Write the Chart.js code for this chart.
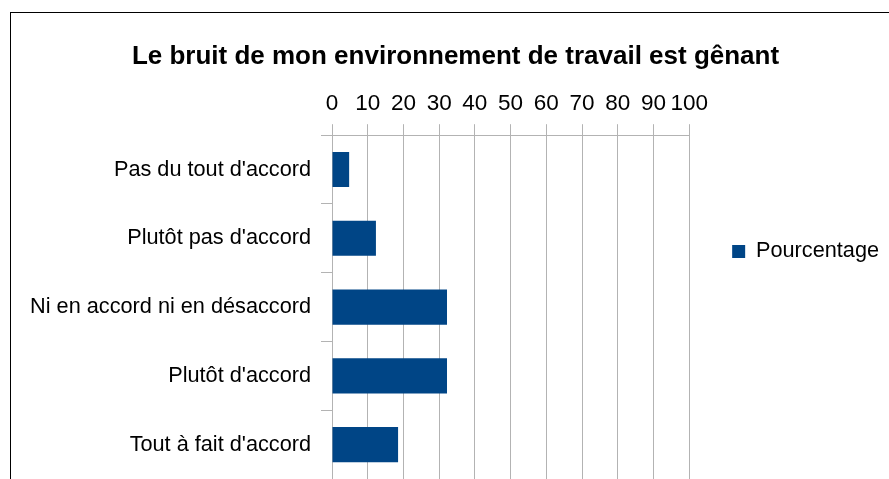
<!DOCTYPE html>
<html>
<head>
<meta charset="utf-8">
<script src="https://cdn.jsdelivr.net/npm/chart.js@4.4.0/dist/chart.umd.min.js"></script>
<style>
  html, body { margin: 0; padding: 0; background: #fff; }
  #wrap { position: relative; width: 889px; height: 479px; overflow: hidden; }
  #frame { position: absolute; left: 10px; top: 12px; right: -2px; bottom: -2px; border-left: 1px solid #000; border-top: 1px solid #000; }
  canvas { position: absolute; left: 0; top: 0; }
</style>
</head>
<body>
<div id="wrap">
  <div id="frame"></div>
  <canvas id="chart" width="889" height="479"></canvas>
</div>
<script>
// --- Chart data ---
const categories = [
    "Pas du tout d'accord",
    "Plutôt pas d'accord",
    "Ni en accord ni en désaccord",
    "Plutôt d'accord",
    "Tout à fait d'accord"
];
const percentages = [4.8, 12.3, 32.2, 32.2, 18.5];
const seriesName = "Pourcentage";
const chartTitle = "Le bruit de mon environnement de travail est gênant";

const FONT = "'Liberation Sans', Arial, sans-serif";
const GRID = "#b3b3b3";

// shift the legend a little down, to where LibreOffice puts it
const legendNudge = {
    id: "legendNudge",
    afterLayout(chart) {
        const lg = chart.legend;
        if (!lg) return;
        lg.top += 12;
        lg.bottom += 12;
    }
};

const ctx = document.getElementById("chart").getContext("2d");
new Chart(ctx, {
    type: "bar",
    data: {
        labels: categories,
        datasets: [{
            label: seriesName,
            data: percentages,
            backgroundColor: "#004586",
            borderWidth: 0,
            categoryPercentage: 1,
            barPercentage: 0.51
        }]
    },
    plugins: [legendNudge],
    options: {
        indexAxis: "y",
        responsive: false,
        animation: false,
        layout: { padding: { left: 22, right: 0, top: 0, bottom: 0 } },
        plugins: {
            title: {
                display: true,
                text: chartTitle,
                color: "#000",
                font: { family: FONT, size: 26, weight: "bold" },
                padding: { top: 41, bottom: 0 }
            },
            legend: {
                position: "right",
                labels: {
                    color: "#000",
                    boxWidth: 13,
                    boxHeight: 13,
                    padding: 43,
                    font: { family: FONT, size: 21.7 }
                }
            },
            tooltip: { enabled: false }
        },
        scales: {
            x: {
                position: "top",
                min: 0,
                max: 100,
                ticks: {
                    stepSize: 10,
                    color: "#000",
                    padding: 7,
                    maxRotation: 0,
                    autoSkip: false,
                    font: { family: FONT, size: 22.5 }
                },
                grid: { color: GRID, lineWidth: 1, tickLength: 11 },
                border: { color: GRID },
                afterFit: function(scale) { scale.height = 63; }
            },
            y: {
                ticks: {
                    color: "#000",
                    padding: 10,
                    font: { family: FONT, size: 21.7 }
                },
                grid: {
                    offset: true,
                    color: function(c) {
                        return (c.index === 0 || c.index === categories.length) ? GRID : "rgba(0,0,0,0)";
                    },
                    tickColor: GRID,
                    tickLength: 11
                },
                border: { color: GRID },
                afterFit: function(scale) {
                    scale.width = 310;
                    scale.paddingTop = 0;
                    scale.paddingBottom = 0;
                }
            }
        }
    }
});
</script>
</body>
</html>
